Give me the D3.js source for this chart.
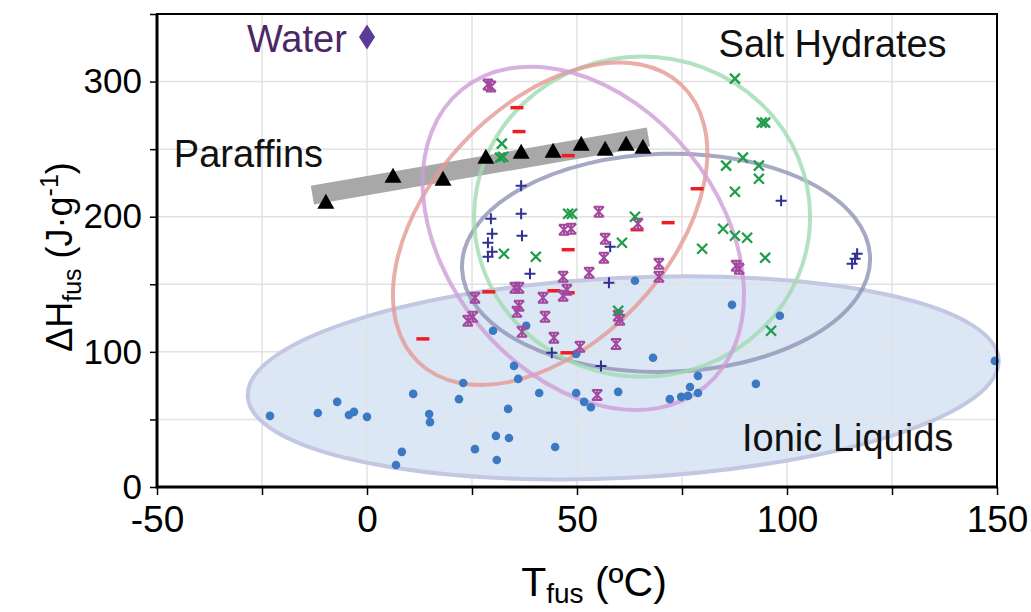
<!DOCTYPE html>
<meta charset="utf-8">
<style>

body {
  margin: 0;
  background-color: #fff;
}

svg text {
  font-family: "Liberation Sans", Arial, sans-serif;
}

.grid line {
  stroke: #e2e2e2;
  stroke-width: 1.5px;
}

.axis path {
  display: none;
}

.axis line {
  stroke: #000;
  stroke-width: 1.5px;
}

.axis text {
  fill: #000;
}

.label {
  font-size: 38px;
  fill: #111;
}

</style>
<body>
<svg width="1031" height="612"></svg>
<script src="https://d3js.org/d3.v7.min.js"></script>
<script>

// ionic liquids (blue dots)
var ionicX = [-23.1, -11.7, -7.1, -4.3, -3.1, 0, 11, 14.8, 15, 8.3, 6.9,
  63.8, 86.9, 37.9, 30, 49.8, 68.1, 35, 22.9, 36, 21.9, 41, 49.8, 51.7, 53.3,
  59.8, 72.1, 74.8, 76.4, 78.8, 76.9, 78.8, 33.6, 30.7, 33.8, 25.7, 30.9, 44.8,
  98.3, 92.6, 149.5];
var ionicY = [52.6, 54.8, 63, 53.3, 55.6, 51.9, 68.9, 54, 48, 26, 16.3,
  152.6, 134.8, 119.3, 115.6, 98.5, 95.6, 89.6, 77, 80, 65, 69.6, 69.6, 63, 59,
  70.4, 65, 66.7, 67.4, 69.6, 74, 82.2, 57.8, 37.8, 36.3, 28, 20, 29.6,
  126.7, 76.3, 93.3];

// paraffins (black triangles)
var paraffinX = [-9.8, 6.2, 18.1, 28.3, 36.7, 44.3, 51, 56.7, 61.7, 65.7];
var paraffinY = [210.4, 229.6, 227.4, 243.7, 247.4, 248.1, 253.3, 249.6, 253.3, 251.1];
var paraffinBandX = [-13, 67];
var paraffinBandY = [216, 259];

// salt hydrates (green crosses)
var saltX = [32.1, 31.7, 32.4, 87.6, 94.0, 94.8, 85.5, 89.5, 93.3, 93.3, 87.6,
  84.8, 87.6, 90.5, 63.8, 47.9, 48.8, 60.7, 32.6, 40.2, 59.8, 79.8, 94.8, 96.2];
var saltY = [254.1, 243.7, 244.4, 302.2, 269.6, 269.6, 237.8, 243.7, 237.8, 228.1, 218.5,
  191.1, 185.9, 184.4, 200, 202.2, 202.2, 180.7, 172.6, 170.4, 130.4, 176.3, 169.6, 115.6];

// blue plus markers
var plusX = [36.7, 36.7, 29.5, 29.8, 36.9, 28.8, 29.8, 28.8, 38.8, 57.9, 57.6,
  44, 55.7, 98.6, 116.7, 116.2, 115.5];
var plusY = [223, 202.2, 198.5, 187.4, 185.9, 180.7, 174.1, 170.4, 157.8, 177.8, 151.1,
  99.3, 89.6, 211.9, 172.6, 168.9, 165.2];

// purple asterisks
var starX = [28.8, 29.5, 55.2, 46.9, 48.6, 56.7, 56.4, 64.5, 52.9, 46.7, 35.2, 36.2,
  47.6, 46.7, 41.9, 25.7, 36.2, 35.7, 42.4, 25.2, 24, 36.9, 44.5, 50.7, 59.3, 59.8,
  60.2, 54.8, 69.5, 69.5, 87.9, 88.6];
var starY = [297.8, 296.3, 203.7, 190.4, 191.1, 183.7, 169.6, 194.8, 158.5, 155.6, 147.4, 147.4,
  145.9, 141.5, 140, 140, 134.1, 129.6, 125.9, 125.9, 123, 114.8, 110.4, 103.7, 105.9, 126.7,
  123.7, 68.1, 165.2, 155.6, 163.7, 161.5];

// red dashes
var dashX = [35.7, 36.2, 47.9, 78.6, 71.7, 64.3, 47.9, 29, 44.5, 47.9, 47.6, 13.3];
var dashY = [280.7, 263, 245.2, 220.7, 195.6, 190.4, 175.6, 144.4, 145.2, 143.7, 99.3, 109.6];

// water
var waterX = [0];
var waterY = [333];

// group ellipses: centre, semi-axes (x units / y units), rotation in degrees
var ellipseCx = [61, 71.2, 65.5, 43.6, 51.5];
var ellipseCy = [80.7, 165.9, 200, 194.8, 184];
var ellipseRx = [89.5, 48.6, 40, 45.5, 45.7];
var ellipseRy = [74, 80.7, 118.5, 88, 100.5];
var ellipseAngle = [-2.8, -1.5, 0, -46.6, 50.7];
var ellipseStroke = ["#c4c7e2", "#8e94b4", "#9fdcb0", "#e49a95", "#cf9ed8"];

var xTicks = d3.range(-50, 151, 25);
var yTicks = d3.range(0, 351, 50);

var svg = d3.select("svg"),
    margin = {top: 14, right: 34, bottom: 125, left: 157},
    width = +svg.attr("width") - margin.left - margin.right,
    height = +svg.attr("height") - margin.top - margin.bottom,
    g = svg.append("g").attr("transform", "translate(" + margin.left + "," + margin.top + ")");

var x = d3.scaleLinear().domain([-50, 150]).range([0, width]);
var y = d3.scaleLinear().domain([0, 350]).range([height, 0]);

function pts(xs, ys) {
  return xs.map(function(d, i) { return {x: d, y: ys[i]}; });
}

var ellipses = ellipseCx.map(function(d, i) {
  return {cx: d, cy: ellipseCy[i], rx: ellipseRx[i], ry: ellipseRy[i], a: ellipseAngle[i], c: ellipseStroke[i]};
});

function ellipseAttrs(sel) {
  sel.attr("cx", 0).attr("cy", 0)
    .attr("rx", function(d) { return x(d.cx + d.rx) - x(d.cx); })
    .attr("ry", function(d) { return y(d.cy) - y(d.cy + d.ry); })
    .attr("transform", function(d) { return "translate(" + x(d.cx) + "," + y(d.cy) + ") rotate(" + d.a + ")"; });
}

// ionic liquids fill
g.append("ellipse")
    .datum(ellipses[0])
    .call(ellipseAttrs)
    .style("fill", "#dbe7f5");

// grid
g.append("g").attr("class", "grid")
  .selectAll("line").data(xTicks.slice(1, -1)).enter().append("line")
    .attr("x1", function(d) { return x(d); }).attr("x2", function(d) { return x(d); })
    .attr("y1", 0).attr("y2", height);

g.append("g").attr("class", "grid")
  .selectAll("line").data(yTicks.slice(1, -1)).enter().append("line")
    .attr("y1", function(d) { return y(d); }).attr("y2", function(d) { return y(d); })
    .attr("x1", 0).attr("x2", width);

// paraffin band
g.append("line")
    .attr("x1", x(paraffinBandX[0])).attr("y1", y(paraffinBandY[0]))
    .attr("x2", x(paraffinBandX[1])).attr("y2", y(paraffinBandY[1]))
    .style("stroke", "#a8a8a8")
    .style("stroke-width", 19);

// ellipse outlines
g.selectAll(".ell")
    .data(ellipses)
  .enter().append("ellipse")
    .attr("class", "ell")
    .call(ellipseAttrs)
    .style("fill", "none")
    .style("stroke", function(d) { return d.c; })
    .style("stroke-opacity", function(d, i) { return i === 0 ? 1 : 0.8; })
    .style("stroke-width", 4);

// ionic liquids
g.selectAll(".ionic")
    .data(pts(ionicX, ionicY))
  .enter().append("circle")
    .attr("cx", function(d) { return x(d.x); })
    .attr("cy", function(d) { return y(d.y); })
    .attr("r", 4.3)
    .style("fill", "#3b79c3");

// red dashes
g.selectAll(".dash")
    .data(pts(dashX, dashY))
  .enter().append("line")
    .attr("x1", function(d) { return x(d.x) - 6.5; })
    .attr("x2", function(d) { return x(d.x) + 6.5; })
    .attr("y1", function(d) { return y(d.y); })
    .attr("y2", function(d) { return y(d.y); })
    .style("stroke", "#ee1c25")
    .style("stroke-width", 3.5);

// blue plus
g.selectAll(".plus")
    .data(pts(plusX, plusY))
  .enter().append("path")
    .attr("transform", function(d) { return "translate(" + x(d.x) + "," + y(d.y) + ")"; })
    .attr("d", "M-5.5,0H5.5M0,-5.5V5.5")
    .style("stroke", "#2e3192")
    .style("stroke-width", 2);

// purple asterisks
g.selectAll(".star")
    .data(pts(starX, starY))
  .enter().append("path")
    .attr("transform", function(d) { return "translate(" + x(d.x) + "," + y(d.y) + ")"; })
    .attr("d", "M-5,-5L5,5M5,-5L-5,5M-5,-5H5M-5,5H5M0,-5V5")
    .style("fill", "none")
    .style("stroke", "#a3489e")
    .style("stroke-width", 2);

// green crosses
g.selectAll(".salt")
    .data(pts(saltX, saltY))
  .enter().append("path")
    .attr("transform", function(d) { return "translate(" + x(d.x) + "," + y(d.y) + ")"; })
    .attr("d", "M-5,-5L5,5M5,-5L-5,5")
    .style("stroke", "#1f9d48")
    .style("stroke-width", 2.3);

// paraffins
g.selectAll(".para")
    .data(pts(paraffinX, paraffinY))
  .enter().append("path")
    .attr("transform", function(d) { return "translate(" + x(d.x) + "," + y(d.y) + ")"; })
    .attr("d", "M0,-9L8.5,6L-8.5,6Z")
    .style("fill", "#000");

// water
g.selectAll(".water")
    .data(pts(waterX, waterY))
  .enter().append("path")
    .attr("transform", function(d) { return "translate(" + x(d.x) + "," + y(d.y) + ")"; })
    .attr("d", "M0,-12.5L8,0L0,12.5L-8,0Z")
    .style("fill", "#5b3a98");

// frame
g.append("rect")
    .attr("width", width).attr("height", height)
    .style("fill", "none")
    .style("stroke", "#000")
    .style("stroke-width", 2);

g.append("path")
    .attr("d", "M0,0V" + height + "H" + width)
    .style("fill", "none")
    .style("stroke", "#000")
    .style("stroke-width", 3);

// axes
var xAxis = g.append("g")
    .attr("class", "axis")
    .attr("transform", "translate(0," + height + ")")
    .call(d3.axisBottom(x)
      .tickValues(xTicks)
      .tickSize(8)
      .tickPadding(11)
      .tickFormat(function(d) { return d % 50 === 0 ? d : ""; }));
xAxis.selectAll("text").style("font-size", "37px");

var yAxis = g.append("g")
    .attr("class", "axis")
    .call(d3.axisLeft(y)
      .tickValues(yTicks)
      .tickSize(7)
      .tickPadding(8)
      .tickFormat(function(d) { return d % 100 === 0 ? d : ""; }));
yAxis.selectAll("text").style("font-size", "35px");

// group labels
g.append("text").attr("class", "label")
    .attr("x", x(-4.8)).attr("y", y(322))
    .attr("text-anchor", "end")
    .style("fill", "#4a2766")
    .text("Water");

g.append("text").attr("class", "label")
    .attr("x", x(-46)).attr("y", y(237))
    .text("Paraffins");

g.append("text").attr("class", "label")
    .attr("x", x(83.7)).attr("y", y(318))
    .text("Salt Hydrates");

g.append("text").attr("class", "label")
    .attr("x", x(89.3)).attr("y", y(27))
    .text("Ionic Liquids");

// axis titles
var xt = svg.append("text")
    .attr("x", 594).attr("y", 596)
    .attr("text-anchor", "middle")
    .style("font-size", "41px");
xt.append("tspan").text("T");
xt.append("tspan").attr("dy", 7).style("font-size", "28px").text("fus");
xt.append("tspan").attr("dy", -7).text(" (ºC)");

var yt = svg.append("text")
    .attr("transform", "translate(72,257) rotate(-90)")
    .attr("text-anchor", "middle")
    .style("font-size", "36px");
yt.append("tspan").text("ΔH");
yt.append("tspan").attr("dy", 9).style("font-size", "25px").text("fus");
yt.append("tspan").attr("dy", -9).text(" (J·g");
yt.append("tspan").attr("dy", -14).style("font-size", "25px").text("-1");
yt.append("tspan").attr("dy", 14).text(")");

</script>
</body>
